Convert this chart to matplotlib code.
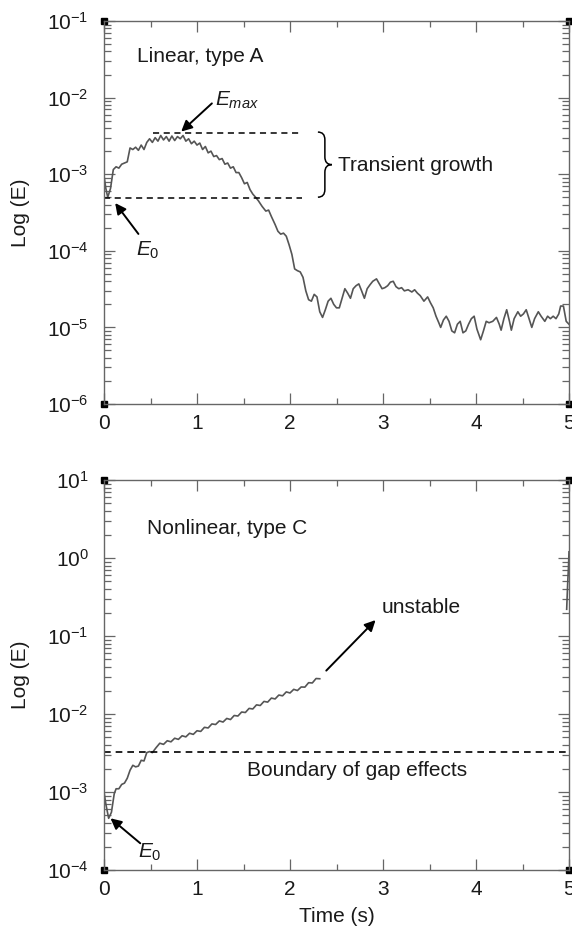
import numpy as np
import matplotlib.pyplot as plt
from matplotlib.path import Path
from matplotlib.patches import PathPatch
from matplotlib.ticker import LogLocator, MultipleLocator, NullFormatter

plt.rcParams['font.family'] = ['Liberation Sans', 'DejaVu Sans']
plt.rcParams['mathtext.fontset'] = 'custom'
plt.rcParams['mathtext.rm'] = 'Liberation Sans'
plt.rcParams['mathtext.it'] = 'Liberation Sans:italic'

# Linear, type A
t_lin = [0.00, 0.02, 0.04, 0.07, 0.10, 0.13, 0.16, 0.19, 0.22, 0.25,
         0.28, 0.31, 0.34, 0.37, 0.40, 0.43, 0.46, 0.49, 0.52, 0.55,
         0.58, 0.61, 0.64, 0.67, 0.70, 0.73, 0.76, 0.79, 0.82, 0.85,
         0.88, 0.91, 0.94, 0.97, 1.00, 1.03, 1.06, 1.09, 1.12, 1.15,
         1.18, 1.21, 1.24, 1.27, 1.30, 1.33, 1.36, 1.39, 1.42, 1.45,
         1.48, 1.51, 1.54, 1.57, 1.60, 1.63, 1.66, 1.70, 1.74, 1.77,
         1.80, 1.84, 1.87, 1.90, 1.93, 1.96, 1.99, 2.02, 2.05, 2.08,
         2.11, 2.14, 2.17, 2.20, 2.23, 2.26, 2.29, 2.32, 2.35, 2.38,
         2.41, 2.44, 2.47, 2.50, 2.53, 2.56, 2.59, 2.62, 2.65, 2.68,
         2.71, 2.74, 2.77, 2.80, 2.83, 2.86, 2.89, 2.93, 2.96, 2.99,
         3.02, 3.05, 3.08, 3.11, 3.14, 3.17, 3.20, 3.23, 3.27, 3.31,
         3.34, 3.37, 3.40, 3.44, 3.48, 3.51, 3.54, 3.57, 3.60, 3.62,
         3.65, 3.68, 3.71, 3.74, 3.77, 3.80, 3.83, 3.86, 3.89, 3.92,
         3.95, 3.98, 4.01, 4.05, 4.08, 4.11, 4.14, 4.18, 4.22, 4.25,
         4.27, 4.30, 4.33, 4.36, 4.38, 4.41, 4.45, 4.48, 4.51, 4.54,
         4.57, 4.60, 4.63, 4.67, 4.70, 4.74, 4.77, 4.80, 4.83, 4.86,
         4.89, 4.91, 4.94, 4.97, 5.00]
E_lin = [9.5e-4, 6.5e-4, 5.0e-4, 6.5e-4, 1.15e-3, 1.25e-3, 1.2e-3, 1.35e-3, 1.4e-3, 1.45e-3,
         2.2e-3, 2.1e-3, 2.25e-3, 2.05e-3, 2.4e-3, 2.1e-3, 2.6e-3, 2.9e-3, 2.6e-3, 3.0e-3,
         2.7e-3, 3.2e-3, 2.8e-3, 3.1e-3, 2.7e-3, 3.15e-3, 2.75e-3, 3.1e-3, 2.9e-3, 3.2e-3,
         2.7e-3, 2.9e-3, 2.5e-3, 2.7e-3, 2.4e-3, 2.55e-3, 2.1e-3, 2.3e-3, 1.9e-3, 2.0e-3,
         1.7e-3, 1.75e-3, 1.55e-3, 1.6e-3, 1.35e-3, 1.4e-3, 1.2e-3, 1.25e-3, 1.05e-3, 1.05e-3,
         9.0e-4, 7.5e-4, 7.8e-4, 6.3e-4, 5.5e-4, 5.0e-4, 4.5e-4, 3.8e-4, 3.3e-4, 3.4e-4,
         2.8e-4, 2.2e-4, 1.8e-4, 1.65e-4, 1.7e-4, 1.55e-4, 1.2e-4, 9.0e-5, 5.8e-5, 5.5e-5,
         5.3e-5, 4.5e-5, 3.0e-5, 2.3e-5, 2.2e-5, 2.7e-5, 2.5e-5, 1.6e-5, 1.35e-5, 1.7e-5,
         2.2e-5, 2.4e-5, 2.0e-5, 1.8e-5, 1.8e-5, 2.4e-5, 3.2e-5, 2.8e-5, 2.4e-5, 3.2e-5,
         3.5e-5, 3.7e-5, 3.0e-5, 2.4e-5, 3.2e-5, 3.6e-5, 4.0e-5, 4.3e-5, 3.7e-5, 3.2e-5,
         3.3e-5, 3.5e-5, 3.9e-5, 4.0e-5, 3.4e-5, 3.2e-5, 3.3e-5, 3.0e-5, 3.1e-5, 2.9e-5,
         3.1e-5, 2.8e-5, 2.6e-5, 2.2e-5, 2.5e-5, 2.1e-5, 1.8e-5, 1.4e-5, 1.15e-5, 1.0e-5,
         1.25e-5, 1.4e-5, 1.2e-5, 9.0e-6, 8.5e-6, 1.1e-5, 1.2e-5, 8.5e-6, 9.0e-6, 1.1e-5,
         1.3e-5, 1.4e-5, 9.5e-6, 6.9e-6, 9.0e-6, 1.2e-5, 1.15e-5, 1.2e-5, 1.35e-5, 1.1e-5,
         9.2e-6, 1.3e-5, 1.7e-5, 1.2e-5, 9.2e-6, 1.3e-5, 1.6e-5, 1.4e-5, 1.5e-5, 1.7e-5,
         1.3e-5, 1.0e-5, 1.3e-5, 1.6e-5, 1.4e-5, 1.2e-5, 1.4e-5, 1.3e-5, 1.4e-5, 1.3e-5,
         1.5e-5, 1.9e-5, 1.9e-5, 1.2e-5, 1.1e-5]

# Nonlinear, type C
t_non = [0.00, 0.02, 0.05, 0.08, 0.11, 0.13, 0.16, 0.19, 0.22, 0.25,
         0.28, 0.31, 0.34, 0.37, 0.40, 0.43, 0.46, 0.49, 0.52, 0.56,
         0.60, 0.64, 0.68, 0.72, 0.76, 0.80, 0.84, 0.88, 0.92, 0.96,
         1.00, 1.04, 1.08, 1.12, 1.16, 1.20, 1.24, 1.28, 1.32, 1.36,
         1.40, 1.44, 1.48, 1.52, 1.56, 1.60, 1.64, 1.68, 1.72, 1.76,
         1.80, 1.84, 1.88, 1.92, 1.96, 2.00, 2.04, 2.08, 2.12, 2.16,
         2.20, 2.24, 2.28, 2.32]
E_non = [1.0e-3, 7.0e-4, 4.6e-4, 5.5e-4, 9.5e-4, 1.1e-3, 1.1e-3, 1.25e-3, 1.3e-3, 1.5e-3,
         1.9e-3, 2.2e-3, 2.1e-3, 2.15e-3, 2.55e-3, 2.5e-3, 3.2e-3, 3.3e-3, 3.2e-3, 3.7e-3,
         4.22e-3, 4.08e-3, 4.54e-3, 4.40e-3, 4.89e-3, 4.73e-3, 5.26e-3, 5.09e-3, 5.66e-3, 5.48e-3,
         6.10e-3, 5.98e-3, 6.75e-3, 6.62e-3, 7.46e-3, 7.33e-3, 8.15e-3, 7.89e-3, 8.77e-3, 8.49e-3,
         9.57e-3, 9.42e-3, 1.06e-2, 1.045e-2, 1.18e-2, 1.16e-2, 1.31e-2, 1.285e-2, 1.45e-2, 1.42e-2,
         1.60e-2, 1.56e-2, 1.75e-2, 1.71e-2, 1.92e-2, 1.86e-2, 2.07e-2, 2.00e-2, 2.22e-2, 2.21e-2,
         2.52e-2, 2.50e-2, 2.85e-2, 2.83e-2]
# short piece visible at the right edge
t_edge = [4.975, 4.985, 4.995, 5.0]
E_edge = [0.22, 0.45, 0.8, 1.2]

E0_lin = 4.9e-4
Emax_lin = 3.4e-3
gap_boundary = 3.25e-3

line_col = '#555555'
axis_col = '#666666'
txt_col = '#1a1a1a'


def style(ax, ylo, yhi):
    ax.set_xlim(0, 5)
    ax.set_yscale('log')
    ax.set_ylim(ylo, yhi)
    ax.xaxis.set_major_locator(MultipleLocator(1))
    ax.xaxis.set_minor_locator(MultipleLocator(0.5))
    ax.yaxis.set_major_locator(LogLocator(base=10, numticks=20))
    ax.yaxis.set_minor_locator(LogLocator(base=10, subs=np.arange(2, 10), numticks=20))
    ax.yaxis.set_minor_formatter(NullFormatter())
    ax.tick_params(which='both', direction='in', top=True, right=True,
                   color=axis_col, width=0.9, labelsize=15, labelcolor=txt_col)
    ax.tick_params(which='major', length=8)
    ax.tick_params(axis='x', which='minor', length=4)
    ax.tick_params(axis='y', which='minor', length=5)
    ax.tick_params(axis='x', pad=7)
    ax.tick_params(axis='y', pad=11)
    for s in ax.spines.values():
        s.set_color(axis_col)
        s.set_linewidth(1.0)
    ax.set_ylabel('Log (E)', fontsize=15, color=txt_col, labelpad=12)
    # little corner squares
    ax.plot([0, 0, 1, 1], [0, 1, 0, 1], 's', color='black', ms=4,
            transform=ax.transAxes, clip_on=False)


fig = plt.figure(figsize=(5.72, 9.40), dpi=100)
ax1 = fig.add_axes([104 / 572, 1 - 404 / 940, 465 / 572, 383 / 940])
ax2 = fig.add_axes([104 / 572, 1 - 870 / 940, 465 / 572, 390 / 940])

arrow = dict(arrowstyle='-|>', color='black', lw=1.4, mutation_scale=16,
             shrinkA=0, shrinkB=0)

# top panel
style(ax1, 1e-6, 1e-1)
ax1.plot(t_lin, E_lin, color=line_col, lw=1.2)
ax1.plot([0.53, 2.13], [Emax_lin, Emax_lin], ls=(0, (4, 3)), color='black', lw=1.1)
ax1.plot([0.0, 2.13], [E0_lin, E0_lin], ls=(0, (4, 3)), color='black', lw=1.1)
ax1.text(0.36, 0.034, 'Linear, type A', fontsize=15, color=txt_col, va='center')
ax1.annotate('', xy=(0.83, 3.6e-3), xytext=(1.16, 8.4e-3), arrowprops=arrow)
ax1.text(1.19, 9.3e-3, r'$E_{max}$', fontsize=15, color=txt_col, va='center')
ax1.annotate('', xy=(0.12, 4.2e-4), xytext=(0.37, 1.66e-4), arrowprops=arrow)
ax1.text(0.34, 1.0e-4, r'$E_{\mathit{0}}$', fontsize=15, color=txt_col, va='center')
ax1.text(2.52, 1.3e-3, 'Transient growth', fontsize=15, color=txt_col, va='center')

# curly brace (axes coords)
x0, xm, xt = 0.46, 0.475, 0.49
yt, yb = 0.71, 0.54
ym = (yt + yb) / 2
verts = [(x0, yt), (xm, yt), (xm, yt - 0.02), (xm, ym + 0.02), (xm, ym), (xt, ym),
         (xm, ym), (xm, ym - 0.02), (xm, yb + 0.02), (xm, yb), (x0, yb)]
codes = [Path.MOVETO, Path.CURVE3, Path.CURVE3, Path.LINETO, Path.CURVE3, Path.CURVE3,
         Path.CURVE3, Path.CURVE3, Path.LINETO, Path.CURVE3, Path.CURVE3]
ax1.add_patch(PathPatch(Path(verts, codes), transform=ax1.transAxes, fill=False,
                        color='black', lw=1.1))

# bottom panel
style(ax2, 1e-4, 1e1)
ax2.plot(t_non, E_non, color=line_col, lw=1.2)
ax2.plot(t_edge, E_edge, color=line_col, lw=1.2)
ax2.axhline(gap_boundary, ls=(0, (4, 3)), color='black', lw=1.2)
ax2.text(1.54, 1.9e-3, 'Boundary of gap effects', fontsize=15, color=txt_col, va='center')
ax2.text(0.46, 2.4, 'Nonlinear, type C', fontsize=15, color=txt_col, va='center')
ax2.annotate('', xy=(2.92, 0.16), xytext=(2.39, 0.036), arrowprops=arrow)
ax2.text(2.99, 0.23, 'unstable', fontsize=15, color=txt_col, va='center')
ax2.annotate('', xy=(0.07, 4.6e-4), xytext=(0.39, 2.2e-4), arrowprops=arrow)
ax2.text(0.37, 1.7e-4, r'$E_{\mathit{0}}$', fontsize=15, color=txt_col, va='center')
ax2.set_xlabel('Time (s)', fontsize=15, color=txt_col, labelpad=6)

fig.savefig('out.png', dpi=100)
